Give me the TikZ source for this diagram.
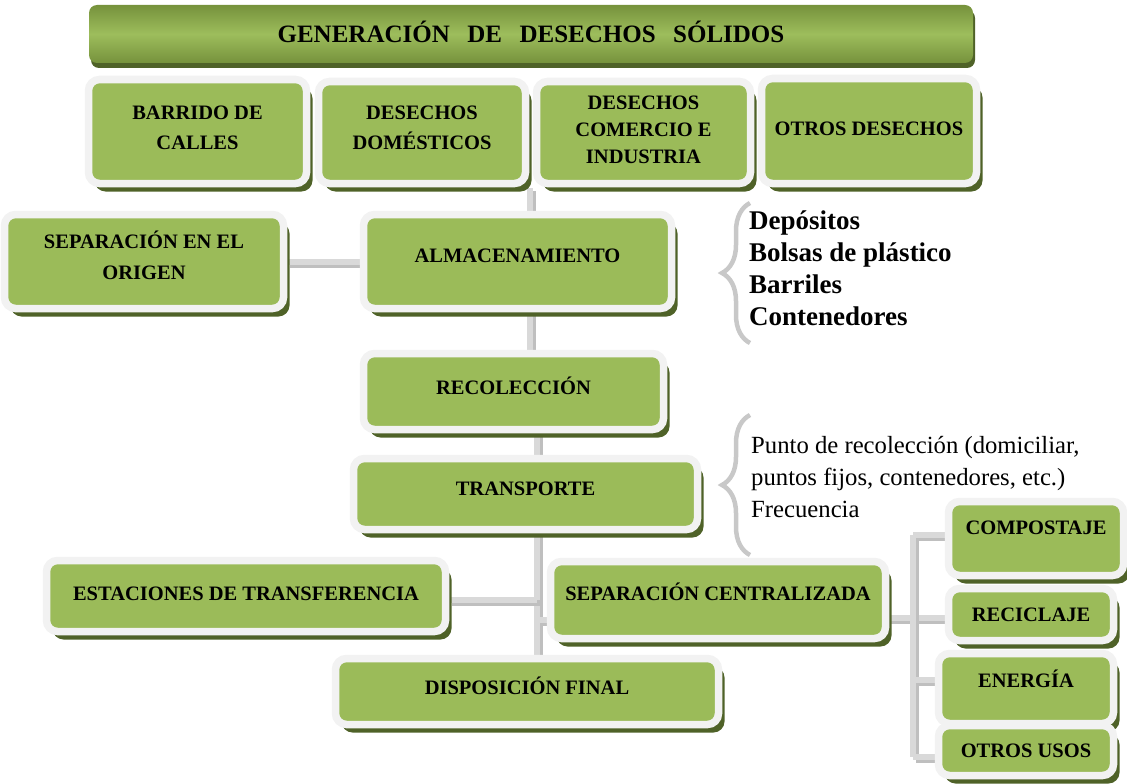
\documentclass[tikz,border=0pt]{standalone}
\usepackage{fontspec}
\setmainfont{Liberation Serif}
\usetikzlibrary{shadows,decorations.pathreplacing}
\definecolor{boxgreen}{HTML}{9BBB59}
\definecolor{boxrim}{HTML}{F2F2F2}
\definecolor{boxshadow}{HTML}{4F6228}
\definecolor{bardark}{HTML}{76923C}
\definecolor{barlight}{HTML}{9DBD5C}
\definecolor{connlight}{HTML}{D9D9D9}
\definecolor{conndark}{HTML}{BFBFBF}
\definecolor{bracegray}{HTML}{C8C8C8}
\pgfdeclarelayer{background}
\pgfsetlayers{background,main}
\newcommand{\boxfont}{\bfseries\fontsize{20.5}{30.5}\selectfont}
\tikzset{
  box/.style={draw=boxrim, fill=boxgreen, line width=7.5pt, rounded corners=11pt,
    align=center, inner sep=0pt, text height=14pt, font=\boxfont,
    drop shadow={shadow xshift=6pt, shadow yshift=-8pt, fill=boxshadow, opacity=1}},
  titlebar/.style={rounded corners=8pt, top color=bardark, bottom color=bardark,
    middle color=barlight, minimum width=884pt, minimum height=58pt, inner sep=0pt,
    font=\bfseries\fontsize{25}{30}\selectfont, text height=16.5pt, text depth=0pt,
    drop shadow={shadow xshift=2pt, shadow yshift=-5pt, fill=boxshadow, opacity=1}},
  conn/.style={draw=connlight, line width=6pt,
    preaction={draw=conndark, line width=6pt, transform canvas={shift={(3pt,-3pt)}}}},
  bracel/.style={draw=bracegray, line width=4.5pt, decorate, decoration={brace, amplitude=28pt}},
  listbold/.style={anchor=base west, align=left, inner sep=0pt,
    font=\bfseries\fontsize{27}{31.7}\selectfont},
  listplain/.style={anchor=base west, align=left, inner sep=0pt,
    font=\fontsize{24.7}{32}\selectfont}
}
\begin{document}
\begin{tikzpicture}[x=1pt,y=-1pt]
  \useasboundingbox (0,0) rectangle (1127,784);
  % title
  \node[titlebar] (gen) at (531,34) {GENERACIÓN\hspace{0.7em}DE\hspace{0.7em}DESECHOS\hspace{0.7em}SÓLIDOS};
  % sources
  \node[box, minimum width=218pt, minimum height=104pt, text height=44.5pt, text depth=8pt] (barrido) at (197.5,131.5) {BARRIDO DE\\CALLES};
  \node[box, minimum width=207pt, minimum height=102pt, text height=44.5pt, text depth=10pt] (domest) at (422,132.5) {DESECHOS\\DOMÉSTICOS};
  \node[box, minimum width=214pt, minimum height=102pt, text height=68pt, text depth=7pt,
        font=\bfseries\fontsize{20.5}{27}\selectfont] (comercio) at (643.5,132.5) {DESECHOS\\COMERCIO E\\INDUSTRIA};
  \node[box, minimum width=215pt, minimum height=105pt, text depth=6pt] (otros) at (869,131) {OTROS DESECHOS};
  % main chain
  \node[box, minimum width=279pt, minimum height=94pt, text height=44.5pt, text depth=9pt] (origen) at (144,261.5) {SEPARACIÓN EN EL\\ORIGEN};
  \node[box, minimum width=308pt, minimum height=94pt, text depth=13pt] (alm) at (517.5,261.5) {ALMACENAMIENTO};
  \node[box, minimum width=300pt, minimum height=76pt, text depth=9pt] (recol) at (513.5,391.5) {RECOLECCIÓN};
  \node[box, minimum width=344pt, minimum height=71pt, text depth=12pt] (transp) at (525.5,494) {TRANSPORTE};
  \node[box, minimum width=399pt, minimum height=71pt, text depth=6pt] (estac) at (246,596) {ESTACIONES DE TRANSFERENCIA};
  \node[box, minimum width=335pt, minimum height=77pt, text depth=14pt] (sepcen) at (718,600) {SEPARACIÓN CENTRALIZADA};
  \node[box, minimum width=383pt, minimum height=66pt, text depth=9pt] (dispo) at (527,691.5) {DISPOSICIÓN FINAL};
  % uses
  \node[box, minimum width=175pt, minimum height=74pt, text depth=23pt] (compost) at (1036,538.5) {COMPOSTAJE};
  \node[box, minimum width=165pt, minimum height=52pt, text depth=0pt] (recic) at (1031,614.5) {RECICLAJE};
  \node[box, minimum width=175pt, minimum height=70pt, text depth=17pt] (energia) at (1026,688.5) {ENERGÍA};
  \node[box, minimum width=175pt, minimum height=50pt, text depth=0pt] (otrosusos) at (1026,750.5) {OTROS USOS};
  % lists
  \node[listbold] (almlist) at (749,325) {Depósitos\\Bolsas de plástico\\Barriles\\Contenedores};
  \node[listplain] (translist) at (751,517) {Punto de recolección (domiciliar,\\puntos fijos, contenedores, etc.)\\Frecuencia};
  \draw[bracel] (750,343) -- (750,203);
  \draw[bracel] (750,555) -- (750,415);
  % connectors
  \coordinate (genjoin) at (530,188);
  \coordinate (trunk) at (537,0);
  \coordinate (rbus) at (913,0);
  \coordinate (estout) at ([yshift=-4pt]estac.east);
  \coordinate (sepin) at ([yshift=-20pt]sepcen.west);
  \coordinate (recin) at ([yshift=-3.5pt]recic.west);
  \coordinate (compin) at ([yshift=3.5pt]compost.west);
  \coordinate (enin) at ([yshift=8.5pt]energia.west);
  \coordinate (ousin) at ([yshift=-6.5pt]otrosusos.west);
  \begin{pgfonlayer}{background}
    \draw[conn] (genjoin) -- (genjoin |- alm.north);
    \draw[conn] (origen) -- (alm);
    \draw[conn] (alm.south -| genjoin) -- (recol.north -| genjoin);
    \draw[conn] (recol.south -| trunk) -- (transp.north -| trunk);
    \draw[conn] (transp.south -| trunk) -- (dispo.north -| trunk);
    \draw[conn] (estout) -- (estout -| trunk);
    \draw[conn] (sepin -| trunk) -- (sepin);
    \draw[conn] (recin -| sepcen) -- (recin);
    \draw[conn] (rbus |- compin) -- (rbus |- ousin);
    \draw[conn] (rbus |- compin) -- (compin);
    \draw[conn] (rbus |- enin) -- (enin);
    \draw[conn] (rbus |- ousin) -- (ousin);
  \end{pgfonlayer}
\end{tikzpicture}
\end{document}
